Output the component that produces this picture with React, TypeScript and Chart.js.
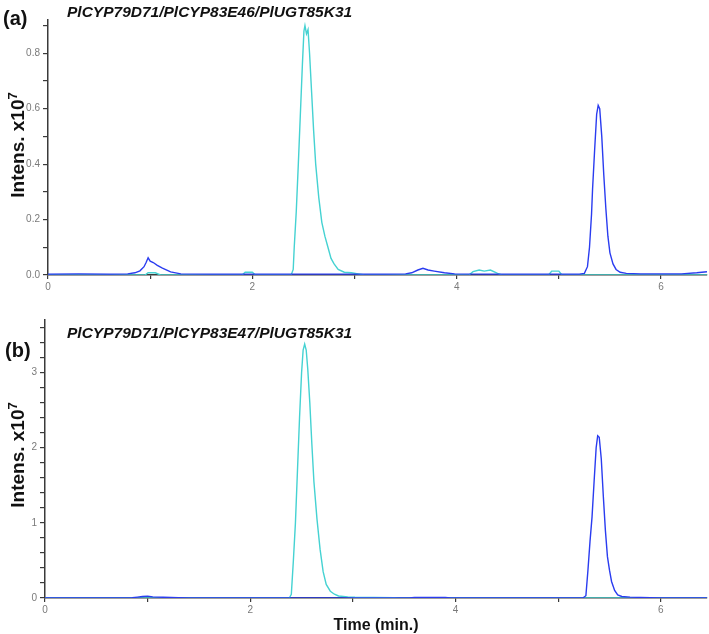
import React, { useEffect, useRef } from "react";
import { Chart, registerables } from "chart.js";

Chart.register(...registerables);

// ---------- data (intensity x10^7 vs time in min) ----------
const topTitle = "PlCYP79D71/PlCYP83E46/PlUGT85K31";
const bottomTitle = "PlCYP79D71/PlCYP83E47/PlUGT85K31";
const yAxisTitle = "Intens. x10";
const yAxisExp = "7";
const xAxisTitle = "Time (min.)";

const xTicks = [0, 1, 2, 3, 4, 5, 6];
const xLabeled = [0, 2, 4, 6];
const topYTicks = [0, 0.1, 0.2, 0.3, 0.4, 0.5, 0.6, 0.7, 0.8, 0.9];
const topYLabeled = [0, 0.2, 0.4, 0.6, 0.8];
const bottomYTicks = [0, 0.2, 0.4, 0.6, 0.8, 1, 1.2, 1.4, 1.6, 1.8, 2, 2.2, 2.4, 2.6, 2.8, 3, 3.2, 3.4, 3.6];
const bottomYLabeled = [0, 1, 2, 3];

const topBlue: number[][] = [
  [0, 0.003], [0.3, 0.004], [0.6, 0.003], [0.78, 0.004], [0.85, 0.008], [0.9, 0.015],
  [0.94, 0.03], [0.96, 0.045], [0.98, 0.062], [1.0, 0.05], [1.03, 0.045], [1.07, 0.035],
  [1.12, 0.025], [1.2, 0.011], [1.3, 0.004], [1.6, 0.003], [2.0, 0.003], [2.4, 0.003],
  [2.9, 0.003], [3.3, 0.003], [3.5, 0.004], [3.56, 0.008], [3.62, 0.018], [3.67, 0.024],
  [3.72, 0.018], [3.78, 0.014], [3.88, 0.008], [3.98, 0.004], [4.3, 0.003], [4.8, 0.003],
  [5.2, 0.003], [5.25, 0.006], [5.28, 0.03], [5.3, 0.1], [5.32, 0.22], [5.33, 0.31],
  [5.35, 0.45], [5.37, 0.58], [5.385, 0.612], [5.4, 0.6], [5.42, 0.5], [5.44, 0.36],
  [5.46, 0.24], [5.48, 0.14], [5.5, 0.08], [5.53, 0.04], [5.56, 0.02], [5.6, 0.01],
  [5.66, 0.006], [5.8, 0.004], [6.2, 0.004], [6.35, 0.008], [6.45, 0.012],
];

const topCyan: number[][] = [
  [0, 0], [0.95, 0], [0.98, 0.008], [1.05, 0.008], [1.1, 0], [1.9, 0], [1.93, 0.01],
  [2.0, 0.01], [2.03, 0], [2.38, 0], [2.4, 0.02], [2.41, 0.1], [2.43, 0.23], [2.45, 0.4],
  [2.47, 0.58], [2.49, 0.76], [2.505, 0.88], [2.515, 0.9], [2.53, 0.87], [2.545, 0.885],
  [2.56, 0.8], [2.58, 0.66], [2.6, 0.52], [2.62, 0.4], [2.65, 0.28], [2.68, 0.19],
  [2.71, 0.14], [2.74, 0.1], [2.77, 0.06], [2.8, 0.04], [2.84, 0.02], [2.9, 0.01],
  [2.97, 0.008], [3.05, 0.003], [3.1, 0], [4.12, 0], [4.16, 0.012], [4.22, 0.018],
  [4.27, 0.014], [4.33, 0.018], [4.4, 0.006], [4.44, 0], [4.9, 0], [4.93, 0.014],
  [5.0, 0.014], [5.03, 0], [6.45, 0],
];

const bottomBlue: number[][] = [
  [0, 0], [0.8, 0], [0.85, 0.005], [0.9, 0.012], [0.95, 0.02], [1.0, 0.025], [1.05, 0.015],
  [1.15, 0.01], [1.3, 0.004], [1.4, 0], [3.55, 0], [3.6, 0.006], [3.9, 0.006], [3.95, 0],
  [5.24, 0], [5.27, 0.03], [5.29, 0.37], [5.31, 0.75], [5.33, 1.08], [5.35, 1.55],
  [5.37, 2.0], [5.385, 2.16], [5.4, 2.14], [5.42, 1.85], [5.44, 1.35], [5.46, 0.9],
  [5.48, 0.55], [5.5, 0.37], [5.52, 0.22], [5.55, 0.1], [5.58, 0.04], [5.62, 0.02],
  [5.7, 0.012], [5.8, 0.008], [5.9, 0.004], [6.0, 0], [6.45, 0],
];

const bottomCyan: number[][] = [
  [0, 0], [2.38, 0], [2.4, 0.05], [2.42, 0.5], [2.44, 1.0], [2.46, 1.7], [2.48, 2.4],
  [2.5, 3.0], [2.515, 3.3], [2.53, 3.38], [2.545, 3.3], [2.56, 3.05], [2.58, 2.6],
  [2.6, 2.05], [2.62, 1.55], [2.65, 1.05], [2.68, 0.65], [2.71, 0.35], [2.74, 0.18],
  [2.78, 0.09], [2.82, 0.05], [2.86, 0.027], [2.95, 0.015], [3.02, 0.01], [3.2, 0.006],
  [3.4, 0.005], [3.45, 0], [6.45, 0],
];

const BLUE = "#2a3cf0";
const CYAN = "#45d2d2";
const AXIS = "#3a3a3a";
const TICKTXT = "#7a7a7a";

function near(a: number, list: number[]) {
  return list.some((v) => Math.abs(v - a) < 1e-6);
}

function buildChart(
  canvas: HTMLCanvasElement,
  blue: number[][],
  cyan: number[][],
  yMax: number,
  yTicks: number[],
  yLabeled: number[],
  decimals: number,
  leftW: number,
  xH: number
) {
  return new Chart(canvas, {
    type: "scatter",
    data: {
      datasets: [
        {
          data: blue.map(([x, y]) => ({ x, y })),
          borderColor: BLUE,
          borderWidth: 1.4,
          showLine: true,
          pointRadius: 0,
          tension: 0,
        },
        {
          data: cyan.map(([x, y]) => ({ x, y })),
          borderColor: CYAN,
          borderWidth: 1.4,
          showLine: true,
          pointRadius: 0,
          tension: 0,
        },
      ],
    },
    options: {
      animation: false,
      responsive: false,
      devicePixelRatio: 1,
      layout: { padding: { top: 20, right: 2, left: 0, bottom: 0 } },
      plugins: { legend: { display: false }, tooltip: { enabled: false } },
      scales: {
        x: {
          type: "linear",
          min: 0,
          max: 6.45,
          afterBuildTicks: (s: any) => {
            s.ticks = xTicks.map((v) => ({ value: v }));
          },
          afterFit: (s: any) => {
            s.height = xH;
          },
          ticks: {
            autoSkip: false,
            maxRotation: 0,
            padding: 2,
            color: TICKTXT,
            font: { family: "'Liberation Sans Narrow', 'Liberation Sans', Arial, sans-serif", size: 10 },
            callback: (v: any) => (near(Number(v), xLabeled) ? String(v) : ""),
          },
          grid: { drawOnChartArea: false, drawTicks: true, tickLength: 4, color: AXIS, lineWidth: 1.2 },
          border: { display: true, color: AXIS, width: 1.5 },
        },
        y: {
          type: "linear",
          min: 0,
          max: yMax,
          afterBuildTicks: (s: any) => {
            s.ticks = yTicks.map((v) => ({ value: v }));
          },
          afterFit: (s: any) => {
            s.width = leftW;
          },
          ticks: {
            autoSkip: false,
            padding: 3,
            color: TICKTXT,
            font: { family: "'Liberation Sans Narrow', 'Liberation Sans', Arial, sans-serif", size: 10 },
            callback: (v: any) => (near(Number(v), yLabeled) ? Number(v).toFixed(decimals) : ""),
          },
          grid: { drawOnChartArea: false, drawTicks: true, tickLength: 5, color: AXIS, lineWidth: 1.2 },
          border: { display: true, color: AXIS, width: 1.5 },
        },
      },
    } as any,
  });
}

const boldSans = "'Liberation Sans', Arial, Helvetica, sans-serif";

function YTitle({ cx, cy }: { cx: number; cy: number }) {
  return (
    <div
      style={{
        position: "absolute",
        left: cx - 80,
        top: cy - 12,
        width: 160,
        height: 24,
        lineHeight: "24px",
        textAlign: "center",
        transform: "rotate(-90deg)",
        fontFamily: boldSans,
        fontWeight: "bold",
        fontSize: 19,
        color: "#111",
        whiteSpace: "nowrap",
      }}
    >
      {yAxisTitle}
      <sup style={{ fontSize: 13, verticalAlign: "0.55em", lineHeight: 0 }}>{yAxisExp}</sup>
    </div>
  );
}

export default function App() {
  const topRef = useRef<HTMLCanvasElement>(null);
  const botRef = useRef<HTMLCanvasElement>(null);

  useEffect(() => {
    const c1 = buildChart(topRef.current!, topBlue, topCyan, 0.92, topYTicks, topYLabeled, 1, 48, 25);
    const c2 = buildChart(botRef.current!, bottomBlue, bottomCyan, 3.7, bottomYTicks, bottomYLabeled, 0, 45, 36);
    return () => {
      c1.destroy();
      c2.destroy();
    };
  }, []);

  const panelLabel: React.CSSProperties = {
    position: "absolute",
    fontFamily: boldSans,
    fontWeight: "bold",
    fontSize: 20,
    lineHeight: "20px",
    color: "#111",
    whiteSpace: "nowrap",
  };
  const title: React.CSSProperties = {
    position: "absolute",
    fontFamily: boldSans,
    fontWeight: "bold",
    fontStyle: "italic",
    fontSize: 15.5,
    lineHeight: "16px",
    color: "#111",
    whiteSpace: "nowrap",
  };

  return (
    <div style={{ position: "absolute", left: 0, top: 0, width: 709, height: 634, background: "#fff", overflow: "hidden" }}>
      <canvas ref={topRef} width={709} height={300} style={{ position: "absolute", left: 0, top: 0, width: 709, height: 300 }} />
      <canvas ref={botRef} width={709} height={334} style={{ position: "absolute", left: 0, top: 300, width: 709, height: 334 }} />
      <div style={{ ...panelLabel, left: 3, top: 8 }}>(a)</div>
      <div style={{ ...title, left: 67, top: 4 }}>{topTitle}</div>
      <div style={{ ...panelLabel, left: 5, top: 340 }}>(b)</div>
      <div style={{ ...title, left: 67, top: 325 }}>{bottomTitle}</div>
      <YTitle cx={18} cy={145} />
      <YTitle cx={18} cy={455} />
      <div
        style={{
          position: "absolute",
          left: 276,
          width: 200,
          top: 616,
          textAlign: "center",
          fontFamily: boldSans,
          fontWeight: "bold",
          fontSize: 16,
          lineHeight: "18px",
          color: "#111",
        }}
      >
        {xAxisTitle}
      </div>
    </div>
  );
}
